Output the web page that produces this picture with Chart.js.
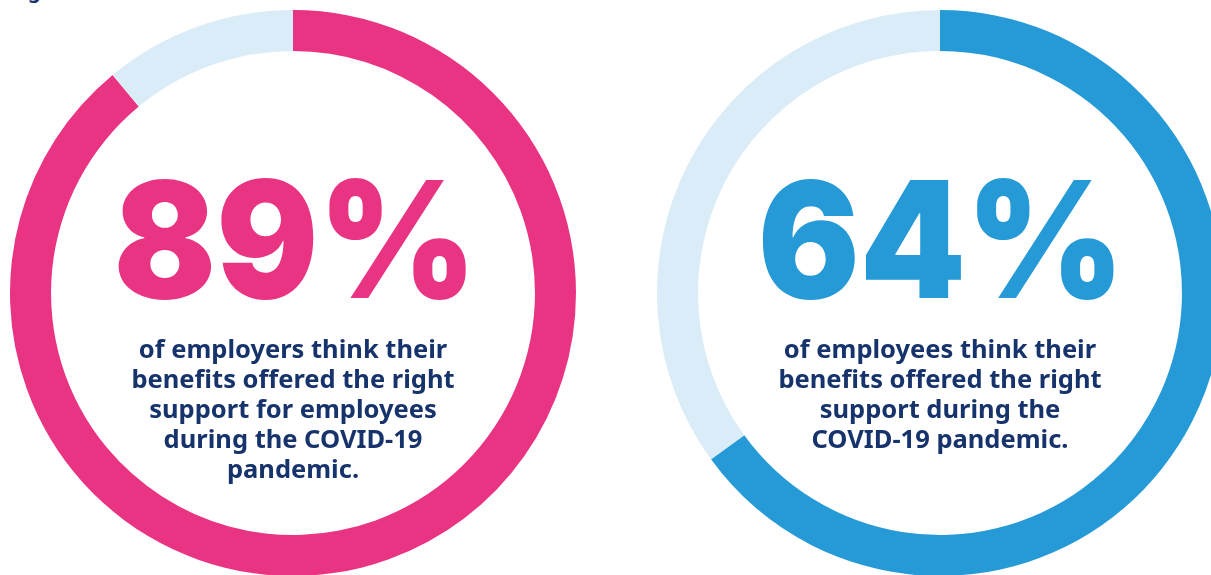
<!DOCTYPE html>
<html>
<head>
<meta charset="utf-8">
<script src="https://cdn.jsdelivr.net/npm/chart.js@4.4.1/dist/chart.umd.min.js"></script>
<style>
  html, body { margin: 0; padding: 0; background: #ffffff; }
  #stage { position: relative; width: 1211px; height: 575px; overflow: hidden; background: #fff; }
  canvas { position: absolute; }
  .big { position: absolute; width: 500px; text-align: center; font-family: Inter, "Noto Sans", sans-serif; font-weight: 900; font-size: 162px; line-height: 162px; white-space: nowrap; transform: scaleX(0.935); transform-origin: 250px 50%; }
  .body { position: absolute; width: 440px; text-align: center; font-family: "Noto Sans", "Open Sans", sans-serif; font-weight: 700; font-size: 25.5px; line-height: 30px; color: #16336b; white-space: nowrap; }
  .clip { position: absolute; left: 28px; top: -19px; font-family: "Noto Sans", sans-serif; font-weight: 700; font-size: 20px; line-height: 20px; color: #16336b; }
</style>
</head>
<body>
<div id="stage">
  <div class="clip">g</div>
  <canvas id="left" width="566" height="566" style="left:10px; top:10px;"></canvas>
  <canvas id="right" width="566" height="566" style="left:657px; top:10px;"></canvas>
  <div class="big" id="bigL" style="left:45px; top:158px; color:#e93383;"></div>
  <div class="big" id="bigR" style="left:691px; top:158px; color:#259ad7;"></div>
  <div class="body" id="txtL" style="left:73px; top:333px;"></div>
  <div class="body" id="txtR" style="left:720px; top:333px;"></div>
</div>
<script>
// ---- data ----
const categories = ['Think benefits offered the right support', 'Do not'];
const employerValues = [89, 11];
const employeeValues = [65, 35];
const employerLabel = '89%';
const employeeLabel = '64%';
const employerText = ['of employers think their', 'benefits offered the right', 'support for employees', 'during the COVID-19', 'pandemic.'];
const employeeText = ['of employees think their', 'benefits offered the right', 'support during the', 'COVID-19 pandemic.'];

const PINK = '#e93383';
const BLUE = '#259ad7';
const LIGHT = '#daecf7';

function makeDonut(id, values, mainColor) {
  return new Chart(document.getElementById(id), {
    type: 'doughnut',
    data: {
      labels: categories,
      datasets: [{
        data: values,
        backgroundColor: [mainColor, LIGHT],
        borderWidth: 0,
        hoverOffset: 0
      }]
    },
    options: {
      responsive: false,
      animation: false,
      devicePixelRatio: 1,
      cutout: '85.5%',
      rotation: 0,
      layout: { padding: 0 },
      events: [],
      plugins: { legend: { display: false }, tooltip: { enabled: false } }
    }
  });
}
makeDonut('left', employerValues, PINK);
makeDonut('right', employeeValues, BLUE);

document.getElementById('bigL').textContent = employerLabel;
document.getElementById('bigR').textContent = employeeLabel;
document.getElementById('txtL').innerHTML = employerText.join('<br>');
document.getElementById('txtR').innerHTML = employeeText.join('<br>');
</script>
</body>
</html>
